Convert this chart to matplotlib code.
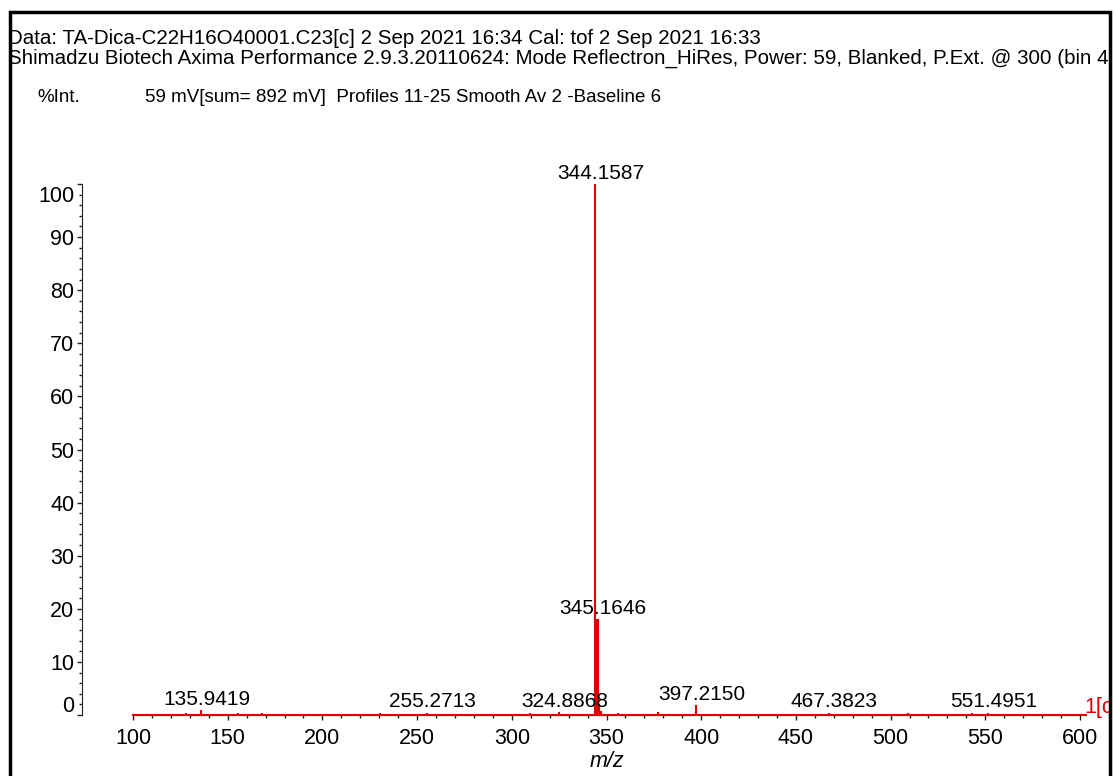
import matplotlib
matplotlib.use("Agg")
import matplotlib.pyplot as plt
from matplotlib.ticker import MultipleLocator
from matplotlib.patches import Rectangle
from matplotlib.transforms import ScaledTranslation, Bbox, TransformedBbox

plt.rcParams['font.family'] = ['Liberation Sans', 'DejaVu Sans']

# peak list (m/z, %Int)
peak_mz = [128.0, 135.9419, 155.5, 168.0, 230.5, 255.2713, 309.5, 324.8868,
           344.1587, 345.1646, 346.2, 347.1, 356.0, 377.0, 397.2150,
           467.3823, 509.0, 543.0, 551.4951]
peak_int = [0.3, 0.9, 0.4, 0.4, 0.3, 0.4, 0.3, 0.5,
            100.0, 18.0, 2.0, 0.8, 0.3, 0.6, 1.9,
            0.4, 0.3, 0.3, 0.4]

# labelled peaks
label_mz = [135.9419, 255.2713, 324.8868, 344.1587, 345.1646, 397.2150, 467.3823, 551.4951]
label_int = [0.9, 0.4, 0.5, 100.0, 18.0, 1.9, 0.4, 0.4]

y_ticks = [0, 10, 20, 30, 40, 50, 60, 70, 80, 90, 100]

header1 = "Data: TA-Dica-C22H16O40001.C23[c] 2 Sep 2021 16:34 Cal: tof 2 Sep 2021 16:33"
header2 = ("Shimadzu Biotech Axima Performance 2.9.3.20110624: Mode Reflectron_HiRes, "
           "Power: 59, Blanked, P.Ext. @ 300 (bin 48")
header3 = "59 mV[sum= 892 mV]  Profiles 11-25 Smooth Av 2 -Baseline 6"

fig = plt.figure(figsize=(11.15, 7.76), dpi=100)
ax = fig.add_axes([133 / 1115, 61 / 776, 947 / 1115, 531 / 776])

red = '#e00000'
ax.plot([100, 603], [0, 0], color=red, lw=1.5, zorder=3, clip_on=False)
ax.vlines(peak_mz, 0, peak_int, color=red, lw=1.5, zorder=3)
ax.vlines(peak_mz[9], 0, peak_int[9], color=red, lw=3, zorder=3)

for mz, it in zip(label_mz, label_int):
    ax.annotate(f"{mz:.4f}", (mz, it), xytext=(4, 1), textcoords='offset points',
                ha='center', va='bottom', fontsize=15, color='black', zorder=5)

ax.set_xlim(100, 600)
ax.set_ylim(0, 100)
ax.xaxis.set_major_locator(MultipleLocator(50))
ax.xaxis.set_minor_locator(MultipleLocator(10))
# end labels of the y axis are drawn by hand, pulled inside the range
ax.set_yticks(y_ticks, [str(v) if 0 < v < 100 else "" for v in y_ticks])
ax.yaxis.set_minor_locator(MultipleLocator(2))
ax.tick_params(axis='both', which='major', length=3.5, width=1, labelsize=15.5, color='#222222')
ax.tick_params(axis='both', which='minor', length=2.2, width=1, color='#222222')
ax.tick_params(axis='y', pad=2)
ax.tick_params(axis='x', pad=6)

lab_x = -51 / 947
lab_off = -(3.5 + 2) / 72
for v, dy in [(y_ticks[0], 9), (y_ticks[-1], -13)]:
    tr = ax.get_yaxis_transform() + ScaledTranslation(lab_off, dy / 100, fig.dpi_scale_trans)
    ax.text(lab_x, v, str(v), transform=tr, ha='right', va='center', fontsize=15.5, clip_on=False)

for s in ['top', 'right']:
    ax.spines[s].set_visible(False)
ax.spines['left'].set_position(('axes', lab_x))
ax.spines['left'].set_color('#222222')
ax.spines['bottom'].set_color('#222222')

ax.set_xlabel("m/z", fontsize=15.5, style='italic', labelpad=1)

inner = TransformedBbox(Bbox([[10.5 / 1115, 0], [1108.5 / 1115, 1]]), fig.transFigure)
for y, txt in [(39, header1), (58, header2)]:
    t = fig.text(8 / 1115, 1 - y / 776, txt, fontsize=14.8, va='center', ha='left')
    t.set_clip_box(inner)
    t.set_clip_on(True)
fig.text(37 / 1115, 1 - 97 / 776, "%Int.", fontsize=13.5, va='center', ha='left')
fig.text(145 / 1115, 1 - 97 / 776, header3, fontsize=13.5, va='center', ha='left')
t = fig.text(1084 / 1115, 1 - 707 / 776, "1[c]", fontsize=15.5, va='center', ha='left', color=red)
t.set_clip_box(inner)
t.set_clip_on(True)

fig.patches.append(Rectangle((9.5 / 1115, -0.01), (1109.5 - 9.5) / 1115, 1 - 11.5 / 776 + 0.01,
                             transform=fig.transFigure, fill=False, ec='black', lw=2.5, zorder=10))

fig.savefig("out.png", dpi=100)
